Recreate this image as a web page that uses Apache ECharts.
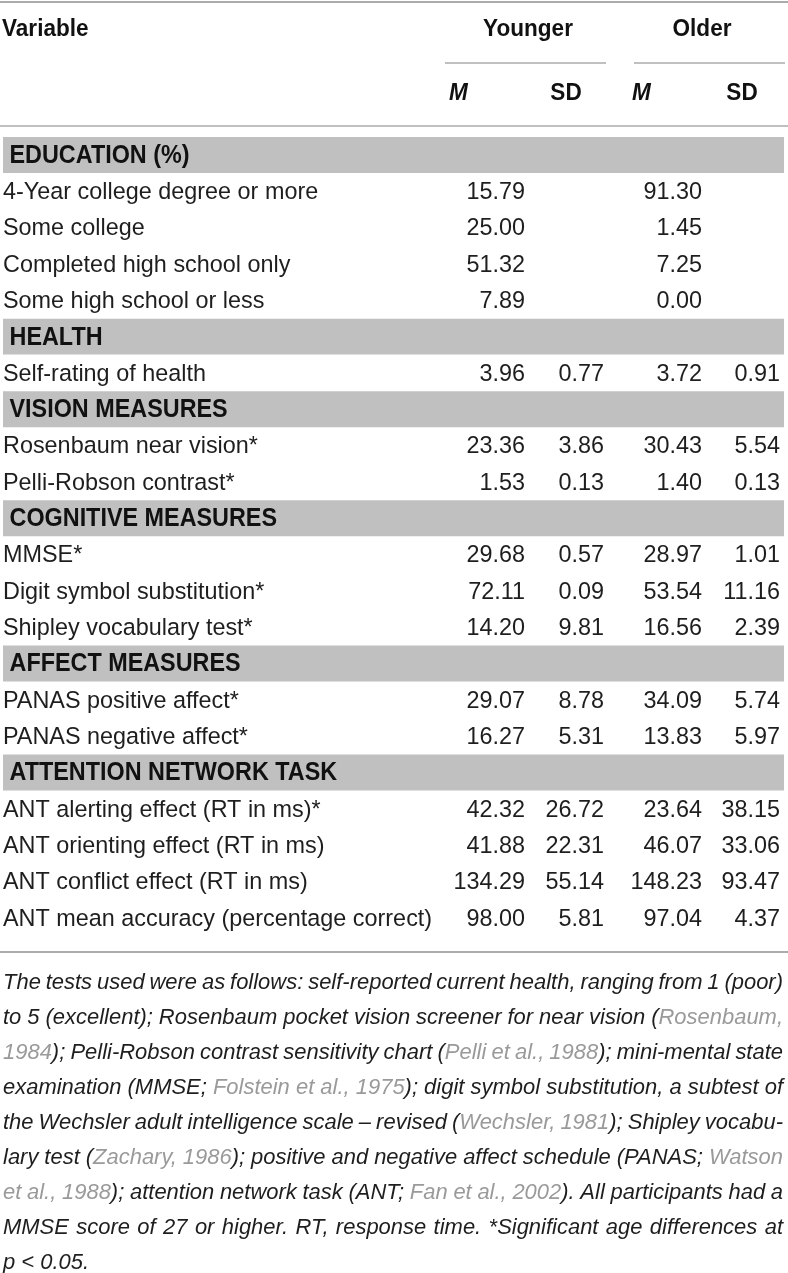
<!DOCTYPE html>
<html>
<head>
<meta charset="utf-8">
<script src="https://cdn.jsdelivr.net/npm/echarts@6/dist/echarts.min.js"></script>
<style>
html,body{margin:0;padding:0;background:#fff;}
#chart{width:788px;height:1273px;}
</style>
</head>
<body>
<div id="chart"></div>
<script>
// ---------- data ----------
const sectionTitles = ["EDUCATION (%)", "HEALTH", "VISION MEASURES", "COGNITIVE MEASURES", "AFFECT MEASURES", "ATTENTION NETWORK TASK"];
const variables = [
  "4-Year college degree or more", "Some college", "Completed high school only", "Some high school or less",
  "Self-rating of health",
  "Rosenbaum near vision*", "Pelli-Robson contrast*",
  "MMSE*", "Digit symbol substitution*", "Shipley vocabulary test*",
  "PANAS positive affect*", "PANAS negative affect*",
  "ANT alerting effect (RT in ms)*", "ANT orienting effect (RT in ms)", "ANT conflict effect (RT in ms)", "ANT mean accuracy (percentage correct)"
];
const sectionOf = [0,0,0,0, 1, 2,2, 3,3,3, 4,4, 5,5,5,5];
const youngerM  = [15.79, 25.00, 51.32, 7.89, 3.96, 23.36, 1.53, 29.68, 72.11, 14.20, 29.07, 16.27, 42.32, 41.88, 134.29, 98.00];
const youngerSD = [null, null, null, null, 0.77, 3.86, 0.13, 0.57, 0.09, 9.81, 8.78, 5.31, 26.72, 22.31, 55.14, 5.81];
const olderM    = [91.30, 1.45, 7.25, 0.00, 3.72, 30.43, 1.40, 28.97, 53.54, 16.56, 34.09, 13.83, 23.64, 46.07, 148.23, 97.04];
const olderSD   = [null, null, null, null, 0.91, 5.54, 0.13, 1.01, 11.16, 2.39, 5.74, 5.97, 38.15, 33.06, 93.47, 4.37];
const groupLabels = ["Younger", "Older"];
const statLabels = ["M", "SD", "M", "SD"];
const footnoteLines = [
  "The tests used were as follows: self-reported current health, ranging from 1 (poor)",
  "to 5 (excellent); Rosenbaum pocket vision screener for near vision ({Rosenbaum,}",
  "{1984}); Pelli-Robson contrast sensitivity chart ({Pelli et al., 1988}); mini-mental state",
  "examination (MMSE; {Folstein et al., 1975}); digit symbol substitution, a subtest of",
  "the Wechsler adult intelligence scale \u2013 revised ({Wechsler, 1981}); Shipley vocabu-",
  "lary test ({Zachary, 1986}); positive and negative affect schedule (PANAS; {Watson}",
  "{et al., 1988}); attention network task (ANT; {Fan et al., 2002}). All participants had a",
  "MMSE score of 27 or higher. RT, response time. *Significant age differences at",
  "p < 0.05."
];

// ---------- layout ----------
const FONT = '"Liberation Sans", Arial, sans-serif';
const TEXT = '#1e1e1e';
const RULE = '#ababab';
const BAND = '#c0c0c0';
const LINK = '#9a9a9a';
const COL_RIGHT = [525, 604, 702, 780];
const ROW_TOP = 136.8, ROW_PITCH = 36.33;
const BODY_FONT = '24.5px ' + FONT, BODY_SX = 0.955;
const HEAD_FONT = 'bold 25px ' + FONT, HEAD_SX = 0.935;

// build rows (heading + variables)
const rows = [];
sectionTitles.forEach((t, s) => {
  rows.push({ heading: true, label: t });
  variables.forEach((v, i) => {
    if (sectionOf[i] === s) rows.push({ heading: false, label: v, vals: [youngerM[i], youngerSD[i], olderM[i], olderSD[i]] });
  });
});

function txt(text, x, y, font, align, fill, sx) {
  return { type: 'text', x: x, y: y, scaleX: sx || 1, scaleY: 1,
    style: { text: text, x: 0, y: 0, font: font, fill: fill || TEXT,
      textAlign: align, align: align, textVerticalAlign: 'middle', verticalAlign: 'middle' } };
}

function renderItem(params, api) {
  const r = rows[params.dataIndex];
  const idx = api.value(1);
  const yc = api.coord([0, idx])[1];
  const h = api.size([0, 1])[1];
  const children = [];
  if (r.heading) {
    const x0 = api.coord([3, idx])[0], x1 = api.coord([784, idx])[0];
    children.push({ type: 'rect', shape: { x: x0, y: yc - h / 2 + 0.2, width: x1 - x0, height: h - 0.4 }, style: { fill: BAND } });
    children.push(txt(r.label, api.coord([9.5, idx])[0], yc + 1, HEAD_FONT, 'left', '#111', HEAD_SX));
  } else {
    children.push(txt(r.label, api.coord([3, idx])[0], yc + 1, BODY_FONT, 'left', TEXT, BODY_SX));
    r.vals.forEach((v, k) => {
      if (v === null || v === undefined) return;
      children.push(txt(v.toFixed(2), api.coord([COL_RIGHT[k], idx])[0], yc + 1, BODY_FONT, 'right', TEXT, BODY_SX));
    });
  }
  return { type: 'group', children: children };
}

// ---------- footnote (justified) ----------
const canvas = document.createElement('canvas');
const ctx = canvas.getContext('2d');
function parseLine(line) {
  const words = [];
  let gray = false, cur = [], seg = '';
  function flushSeg() { if (seg) { cur.push({ t: seg, gray: gray }); seg = ''; } }
  for (const ch of line) {
    if (ch === '{') { flushSeg(); gray = true; }
    else if (ch === '}') { flushSeg(); gray = false; }
    else if (ch === ' ') { flushSeg(); if (cur.length) words.push(cur); cur = []; }
    else seg += ch;
  }
  flushSeg(); if (cur.length) words.push(cur);
  return words;
}
const FN_LEFT = 3, FN_RIGHT = 783, FN_TOP = 983, FN_PITCH = 35;
const fnFont = 'italic 22px ' + FONT;
const parsed = footnoteLines.map(parseLine);
ctx.font = fnFont;
const spaceW = ctx.measureText(' ').width;
function lineNatural(words) {
  let w = 0;
  words.forEach(wd => wd.forEach(s => { w += ctx.measureText(s.t).width; }));
  return w + (words.length - 1) * spaceW * 0.8;
}
const maxNat = Math.max.apply(null, parsed.map(lineNatural));
const fnSX = Math.min(1, (FN_RIGHT - FN_LEFT) / maxNat);
const footGraphics = [];
parsed.forEach((words, li) => {
  const widths = words.map(wd => wd.reduce((a, s) => a + ctx.measureText(s.t).width * fnSX, 0));
  const total = widths.reduce((a, b) => a + b, 0);
  const justify = li < parsed.length - 1;
  const gap = justify && words.length > 1 ? (FN_RIGHT - FN_LEFT - total) / (words.length - 1) : spaceW * fnSX;
  let x = FN_LEFT;
  const y = FN_TOP + li * FN_PITCH;
  words.forEach((wd, wi) => {
    let sx = x;
    wd.forEach(s => {
      footGraphics.push(txt(s.t, sx, y, fnFont, 'left', s.gray ? LINK : TEXT, fnSX));
      sx += ctx.measureText(s.t).width * fnSX;
    });
    x += widths[wi] + gap;
  });
});

// ---------- header graphics ----------
const headerFont = 'bold 23.5px ' + FONT;
const HSX = 0.96;
const header = [
  { type: 'line', shape: { x1: 0, y1: 2, x2: 788, y2: 2 }, style: { stroke: RULE, lineWidth: 2 } },
  txt('Variable', 2, 30, headerFont, 'left', '#111', HSX),
  txt(groupLabels[0], 528, 30, headerFont, 'center', '#111', HSX),
  txt(groupLabels[1], 702, 30, headerFont, 'center', '#111', HSX),
  { type: 'line', shape: { x1: 445, y1: 63, x2: 606, y2: 63 }, style: { stroke: RULE, lineWidth: 1.5 } },
  { type: 'line', shape: { x1: 634, y1: 63, x2: 785, y2: 63 }, style: { stroke: RULE, lineWidth: 1.5 } },
  txt(statLabels[0], 449, 94, 'italic bold 23.5px ' + FONT, 'left', '#111', HSX),
  txt(statLabels[1], 566, 94, headerFont, 'center', '#111', HSX),
  txt(statLabels[2], 632, 94, 'italic bold 23.5px ' + FONT, 'left', '#111', HSX),
  txt(statLabels[3], 742, 94, headerFont, 'center', '#111', HSX),
  { type: 'line', shape: { x1: 0, y1: 126, x2: 788, y2: 126 }, style: { stroke: RULE, lineWidth: 1.5 } },
  { type: 'line', shape: { x1: 0, y1: 952, x2: 788, y2: 952 }, style: { stroke: RULE, lineWidth: 2 } }
];

const chart = echarts.init(document.getElementById('chart'), null, { renderer: 'canvas' });
chart.setOption({
  animation: false,
  backgroundColor: '#fff',
  grid: { left: 0, right: 0, top: ROW_TOP, height: ROW_PITCH * rows.length },
  xAxis: { type: 'value', min: 0, max: 788, show: false },
  yAxis: { type: 'category', inverse: true, data: rows.map(r => r.label), show: false },
  graphic: { elements: header.concat(footGraphics) },
  series: [{
    type: 'custom',
    renderItem: renderItem,
    encode: { x: 0, y: 1 },
    data: rows.map((r, i) => [0, i]),
    clip: false,
    silent: true
  }]
});
</script>
</body>
</html>
